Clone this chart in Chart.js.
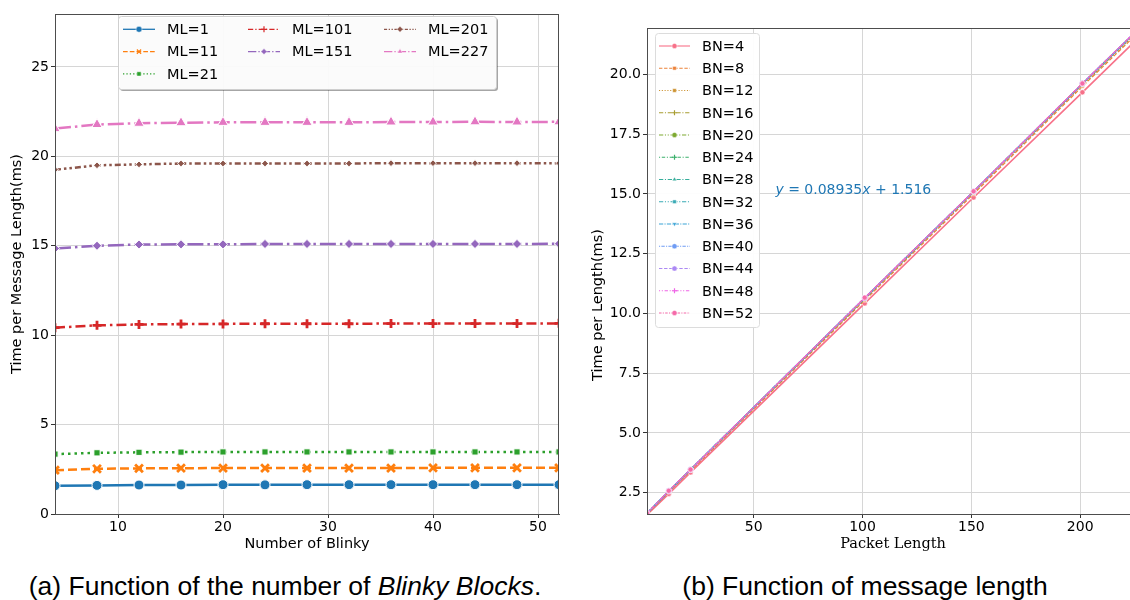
<!DOCTYPE html>
<html>
<head>
<meta charset="utf-8">
<script src="https://cdn.jsdelivr.net/npm/chart.js@4/dist/chart.umd.min.js"></script>
<style>
html, body { margin: 0; padding: 0; background: #fff; overflow: hidden; width: 1130px; height: 600px; }
.panel { position: absolute; top: 0; width: 570px; height: 560px; }
#left { left: 0; }
#right { left: 580px; }
.caption { position: absolute; top: 571px; line-height: 30px; font-family: "Liberation Sans", Arial, sans-serif; font-size: 26.5px; color: #000; white-space: nowrap; transform: translateX(-50%); }
</style>
</head>
<body>
<div class="panel" id="left"><canvas id="chartA" width="570" height="560"></canvas></div>
<div class="panel" id="right"><canvas id="chartB" width="570" height="560"></canvas></div>
<div class="caption" style="left:285px">(a) Function of the number of <i>Blinky Blocks</i>.</div>
<div class="caption" style="left:865px">(b) Function of message length</div>
<script>
// values
const blinkyCounts = [4, 8, 12, 16, 20, 24, 28, 32, 36, 40, 44, 48, 52];
const messageLengths = [1, 11, 21, 101, 151, 201, 227];

const timeML1   = [1.58, 1.60, 1.62, 1.62, 1.64, 1.63, 1.64, 1.64, 1.64, 1.64, 1.64, 1.64, 1.64];
const timeML11  = [2.45, 2.53, 2.55, 2.56, 2.57, 2.57, 2.57, 2.57, 2.57, 2.58, 2.58, 2.58, 2.58];
const timeML21  = [3.35, 3.42, 3.45, 3.46, 3.47, 3.47, 3.47, 3.47, 3.47, 3.47, 3.47, 3.47, 3.47];
const timeML101 = [10.42, 10.55, 10.60, 10.62, 10.63, 10.64, 10.64, 10.64, 10.65, 10.65, 10.65, 10.65, 10.66];
const timeML151 = [14.85, 15.00, 15.07, 15.08, 15.08, 15.10, 15.10, 15.10, 15.10, 15.10, 15.10, 15.10, 15.11];
const timeML201 = [19.25, 19.50, 19.55, 19.60, 19.60, 19.60, 19.60, 19.60, 19.62, 19.62, 19.62, 19.62, 19.62];
const timeML227 = [21.55, 21.78, 21.85, 21.88, 21.90, 21.90, 21.90, 21.90, 21.92, 21.92, 21.93, 21.92, 21.93];

const xTicksA = [10, 20, 30, 40, 50];
const yTicksA = [0, 5, 10, 15, 20, 25];
const xTicksB = [50, 100, 150, 200];
const yTicksB = [2.5, 5, 7.5, 10, 12.5, 15, 17.5, 20];

const timeByLength = [timeML1, timeML11, timeML21, timeML101, timeML151, timeML201, timeML227];

Chart.defaults.font.family = "'DejaVu Sans', sans-serif";
Chart.defaults.color = '#000';

// styles for panel (a)
const styleA = [
    { color: '#1f77b4', dash: [], point: 'circle', radius: 5, filled: true },
    { color: '#ff7f0e', dash: [9, 4], point: 'crossRot', radius: 5.5, filled: false },
    { color: '#2ca02c', dash: [2.5, 4], point: 'rect', radius: 4.4, filled: true },
    { color: '#d62728', dash: [10, 4, 2.5, 4], point: 'cross', radius: 4.5, filled: false },
    { color: '#9467bd', dash: [16, 4, 2.5, 4], point: 'rectRot', radius: 4.6, filled: true },
    { color: '#8c564b', dash: [6, 3, 2.5, 3, 2.5, 3], point: 'rectRot', radius: 3.4, filled: true },
    { color: '#e377c2', dash: [16, 4, 2.5, 4], point: 'triangle', radius: 6, filled: true }
];

// styles for panel (b), husl-like palette
const styleB = [
    { color: '#f77189', dash: [], point: 'circle' },
    { color: '#ec8239', dash: [4, 2], point: 'rect' },
    { color: '#cc9230', dash: [1.3, 2], point: 'rect' },
    { color: '#a89d31', dash: [5, 2, 1.3, 2], point: 'cross' },
    { color: '#7eaa31', dash: [5, 2, 1.3, 2, 1.3, 2], point: 'circle' },
    { color: '#3bb06b', dash: [1.3, 2, 4, 2], point: 'cross' },
    { color: '#36ad9b', dash: [5, 2, 1.3, 2], point: 'triangle' },
    { color: '#38aab5', dash: [5, 2, 1.3, 2, 1.3, 2], point: 'rect' },
    { color: '#3ba4d6', dash: [5, 1.5, 1.3, 1.5], point: 'triangle', rot: 180 },
    { color: '#6f9cf4', dash: [1.3, 1.5, 4, 1.5], point: 'circle' },
    { color: '#ac89f4', dash: [4, 2], point: 'circle', radius: 3 },
    { color: '#ef66e6', dash: [1.3, 2, 1.3, 2, 4, 2], point: 'cross' },
    { color: '#f56aa9', dash: [3, 1.5, 1.3, 1.5], point: 'circle' }
];

function drawMarker(ctx, style, x, y, r, fill, stroke, lw, rot) {
    ctx.save();
    ctx.translate(x, y);
    ctx.rotate((rot || 0) * Math.PI / 180);
    ctx.setLineDash([]);
    ctx.beginPath();
    if (style === 'circle') {
        ctx.arc(0, 0, r, 0, Math.PI * 2);
    } else if (style === 'rect') {
        const s = r * Math.SQRT1_2;
        ctx.rect(-s, -s, 2 * s, 2 * s);
    } else if (style === 'rectRot') {
        ctx.moveTo(0, -r); ctx.lineTo(r, 0); ctx.lineTo(0, r); ctx.lineTo(-r, 0); ctx.closePath();
    } else if (style === 'triangle') {
        ctx.moveTo(0, -r);
        ctx.lineTo(r * 0.866, r * 0.5);
        ctx.lineTo(-r * 0.866, r * 0.5);
        ctx.closePath();
    } else if (style === 'cross') {
        ctx.moveTo(0, -r); ctx.lineTo(0, r); ctx.moveTo(-r, 0); ctx.lineTo(r, 0);
    } else if (style === 'crossRot') {
        const s = r * Math.SQRT1_2;
        ctx.moveTo(-s, -s); ctx.lineTo(s, s); ctx.moveTo(-s, s); ctx.lineTo(s, -s);
    }
    if (style !== 'cross' && style !== 'crossRot') {
        ctx.fillStyle = fill;
        ctx.fill();
    }
    ctx.strokeStyle = stroke;
    ctx.lineWidth = lw;
    ctx.stroke();
    ctx.restore();
}

const boxLegend = {
    id: 'boxLegend',
    afterDraw(chart, args, opts) {
        const ctx = chart.ctx;
        const b = opts.box;
        ctx.save();
        if (opts.shadow) {
            ctx.fillStyle = 'rgba(0,0,0,0.35)';
            ctx.beginPath();
            ctx.roundRect(b.x + 2, b.y + 2, b.w, b.h, 3);
            ctx.fill();
        }
        ctx.fillStyle = 'rgba(255,255,255,0.95)';
        ctx.strokeStyle = opts.borderColor;
        ctx.lineWidth = 1;
        ctx.beginPath();
        ctx.roundRect(b.x + 0.5, b.y + 0.5, b.w, b.h, 3);
        ctx.fill();
        ctx.stroke();

        let col = 0, row = 0;
        chart.data.datasets.forEach((ds) => {
            if (row >= opts.colSizes[col]) { col++; row = 0; }
            const x0 = opts.colX[col];
            const y = opts.firstRow + row * opts.rowGap;
            const scale = opts.lineWidth / ds.borderWidth;
            ctx.strokeStyle = ds.borderColor;
            ctx.lineWidth = opts.lineWidth;
            ctx.setLineDash((ds.borderDash || []).map(d => d * scale));
            ctx.beginPath();
            ctx.moveTo(x0, y);
            ctx.lineTo(x0 + opts.handle, y);
            ctx.stroke();
            const filled = ds.pointStyle !== 'cross' && ds.pointStyle !== 'crossRot';
            drawMarker(ctx, ds.pointStyle, x0 + opts.handle / 2, y, opts.markerRadius,
                ds.borderColor, filled ? '#fff' : ds.borderColor, filled ? 0.5 : 1.2, ds.pointRotation);
            ctx.setLineDash([]);
            ctx.fillStyle = '#000';
            ctx.font = opts.font;
            ctx.textBaseline = 'middle';
            ctx.fillText(ds.label, x0 + opts.textOffset, y + 1);
            row++;
        });
        ctx.restore();
    }
};

const frame = {
    id: 'frame',
    afterDatasetsDraw(chart) {
        const a = chart.chartArea;
        const ctx = chart.ctx;
        ctx.save();
        ctx.strokeStyle = '#4d4d4d';
        ctx.lineWidth = 1;
        ctx.strokeRect(Math.round(a.left) + 0.5, Math.round(a.top) + 0.5,
            Math.round(a.right - a.left) - 1, Math.round(a.bottom - a.top));
        ctx.restore();
    }
};

const fitNote = {
    id: 'fitNote',
    afterDatasetsDraw(chart, args, opts) {
        if (!opts.parts) return;
        const ctx = chart.ctx;
        let x = chart.scales.x.getPixelForValue(opts.x);
        const y = chart.scales.y.getPixelForValue(opts.y);
        ctx.save();
        ctx.fillStyle = opts.color;
        ctx.textBaseline = 'alphabetic';
        opts.parts.forEach(p => {
            ctx.font = (p.italic ? 'italic ' : '') + opts.size + "px 'DejaVu Sans'";
            ctx.fillText(p.text, x, y);
            x += ctx.measureText(p.text).width;
        });
        ctx.restore();
    }
};

// y label of panel (b) sits lower than the axis centre in the original
const sideTitle = {
    id: 'sideTitle',
    afterDraw(chart, args, opts) {
        if (!opts.text) return;
        const ctx = chart.ctx;
        ctx.save();
        ctx.translate(opts.x, opts.y);
        ctx.rotate(-Math.PI / 2);
        ctx.font = opts.font;
        ctx.fillStyle = '#000';
        ctx.textAlign = 'center';
        ctx.textBaseline = 'middle';
        ctx.fillText(opts.text, 0, 0);
        ctx.restore();
    }
};

function axis(min, max, ticks, fmt, title, titleFont, fitSize, horizontal) {
    const s = {
        type: 'linear',
        min: min,
        max: max,
        afterBuildTicks: sc => { sc.ticks = ticks.map(v => ({ value: v })); },
        ticks: {
            font: { size: 14 },
            color: '#000',
            padding: horizontal ? 1 : 2,
            maxRotation: 0,
            autoSkip: false,
            callback: fmt
        },
        grid: { color: '#d6d6d6', lineWidth: 1, tickColor: '#333', tickLength: 4 },
        border: { color: '#4d4d4d', width: 1 },
        title: {
            display: !!title,
            text: title,
            font: titleFont,
            color: '#000',
            padding: horizontal ? { top: 0, bottom: 7 } : { top: 9, bottom: 0 }
        }
    };
    if (horizontal) s.afterFit = sc => { sc.height = fitSize; };
    else s.afterFit = sc => { sc.width = fitSize; };
    return s;
}

const datasetsA = messageLengths.map((ml, i) => ({
    label: 'ML=' + ml,
    data: blinkyCounts.map((bn, j) => ({ x: bn, y: timeByLength[i][j] })),
    showLine: true,
    order: -i,
    borderColor: styleA[i].color,
    backgroundColor: styleA[i].color,
    borderWidth: 2.5,
    borderDash: styleA[i].dash,
    pointStyle: styleA[i].point,
    pointRadius: styleA[i].radius,
    pointBackgroundColor: styleA[i].color,
    pointBorderColor: styleA[i].filled ? '#fff' : styleA[i].color,
    pointBorderWidth: styleA[i].filled ? 1 : 2.8,
    tension: 0
}));

new Chart(document.getElementById('chartA'), {
    type: 'scatter',
    data: { datasets: datasetsA },
    plugins: [frame, boxLegend],
    options: {
        responsive: false,
        animation: false,
        devicePixelRatio: 1,
        layout: { padding: { top: 14, right: 11, left: 0, bottom: 0 } },
        scales: {
            x: axis(4, 52, xTicksA, v => v, 'Number of Blinky', { size: 14.5 }, 46, true),
            y: axis(0, 27.96, yTicksA, v => v, 'Time per Message Length(ms)', { size: 14.5 }, 55, false)
        },
        plugins: {
            legend: { display: false },
            tooltip: { enabled: false },
            boxLegend: {
                box: { x: 118, y: 16, w: 378, h: 73 },
                borderColor: '#cfcfcf',
                shadow: true,
                colSizes: [3, 2, 2],
                colX: [123, 248, 384],
                firstRow: 29.3,
                rowGap: 22.3,
                handle: 32,
                textOffset: 44,
                lineWidth: 1.3,
                markerRadius: 3,
                font: "14.5px 'DejaVu Sans'"
            }
        }
    }
});

const datasetsB = blinkyCounts.map((bn, j) => ({
    label: 'BN=' + bn,
    data: messageLengths.map((ml, i) => ({ x: ml, y: timeByLength[i][j] })),
    showLine: true,
    order: -j,
    borderColor: styleB[j].color,
    backgroundColor: styleB[j].color,
    borderWidth: j === 0 ? 1.6 : 1.3,
    borderDash: styleB[j].dash,
    pointStyle: styleB[j].point,
    pointRotation: styleB[j].rot || 0,
    pointRadius: styleB[j].radius || 2.6,
    pointBackgroundColor: styleB[j].color,
    pointBorderColor: styleB[j].point === 'cross' ? styleB[j].color : '#fff',
    pointBorderWidth: styleB[j].point === 'cross' ? 1.2 : 0.6,
    tension: 0
}));

new Chart(document.getElementById('chartB'), {
    type: 'scatter',
    data: { datasets: datasetsB },
    plugins: [frame, fitNote, boxLegend, sideTitle],
    options: {
        responsive: false,
        animation: false,
        devicePixelRatio: 1,
        layout: { padding: { top: 28, right: 11, left: 0, bottom: 0 } },
        scales: {
            x: axis(1, 227, xTicksB, v => v, 'Packet Length', { size: 14.5, family: "'DejaVu Serif', serif" }, 46, true),
            y: axis(1.61, 21.94, yTicksB, v => v.toFixed(1), '', { size: 14.5 }, 67, false)
        },
        plugins: {
            legend: { display: false },
            tooltip: { enabled: false },
            sideTitle: { text: 'Time per Length(ms)', x: 18, y: 305, font: "14.5px 'DejaVu Sans'" },
            fitNote: {
                x: 60, y: 15, size: 14, color: '#1f77b4',
                parts: [
                    { text: 'y', italic: true },
                    { text: ' = 0.08935', italic: false },
                    { text: 'x', italic: true },
                    { text: ' + 1.516', italic: false }
                ]
            },
            boxLegend: {
                box: { x: 75, y: 33, w: 104, h: 294 },
                borderColor: '#dcdcdc',
                shadow: false,
                colSizes: [13],
                colX: [79],
                firstRow: 46,
                rowGap: 22.25,
                handle: 31,
                textOffset: 43,
                lineWidth: 1.1,
                markerRadius: 2.6,
                font: "14.5px 'DejaVu Sans'"
            }
        }
    }
});
</script>
</body>
</html>
